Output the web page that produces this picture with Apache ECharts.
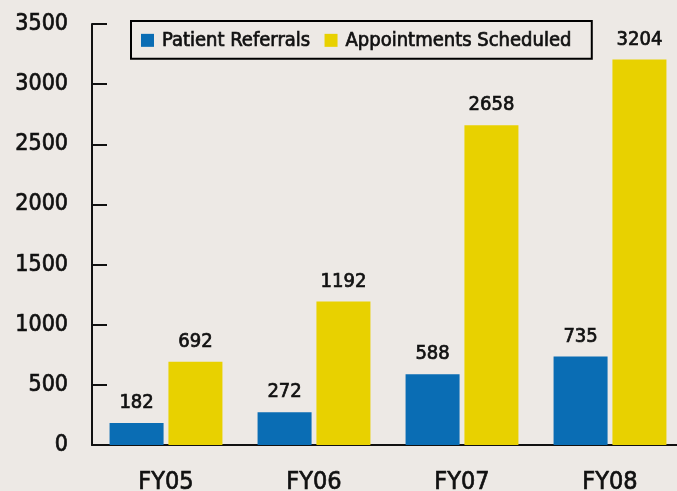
<!DOCTYPE html>
<html><head><meta charset="utf-8">
<script src="https://cdn.jsdelivr.net/npm/echarts@6/dist/echarts.min.js"></script>
<style>html,body{margin:0;padding:0;background:#ede9e5}#c{width:677px;height:491px}</style>
</head><body><div id="c"></div>
<script>
var categories = ['FY05', 'FY06', 'FY07', 'FY08'];
var referrals = [182, 272, 588, 735];
var appointments = [692, 1192, 2658, 3204];
var seriesNames = ['Patient Referrals', 'Appointments Scheduled'];
var yTicks = [0, 500, 1000, 1500, 2000, 2500, 3000, 3500];

var FONT = '"DejaVu Sans Condensed", "Liberation Sans Narrow", "Liberation Sans", sans-serif';
var INK = '#111';
var thick = { textBorderColor: INK, textBorderWidth: 0.7 };
var chart = echarts.init(document.getElementById('c'));
chart.setOption({
  backgroundColor: '#ede9e5',
  animation: false,
  textStyle: { fontFamily: FONT },
  legend: {
    left: 131, top: 21,
    data: seriesNames,
    itemWidth: 13, itemHeight: 13, itemGap: 14,
    backgroundColor: '#ede9e5',
    borderColor: '#000', borderWidth: 2, borderRadius: 0,
    padding: [9, 20, 8, 10],
    icon: 'rect',
    textStyle: Object.assign({ fontFamily: FONT, fontSize: 20, color: INK, padding: [0, 0, 0, 3] }, thick)
  },
  grid: { left: 92, right: -7, top: 24, bottom: 46, containLabel: false, outerBoundsMode: 'none' },
  xAxis: {
    type: 'category', data: categories,
    axisLine: { lineStyle: { color: INK, width: 2 } },
    axisTick: { inside: true, length: 10, lineStyle: { color: INK, width: 2 } },
    axisLabel: Object.assign({ fontFamily: FONT, fontSize: 25, color: INK, margin: 25 }, thick)
  },
  yAxis: {
    type: 'value', min: 0, max: 3500, interval: 500,
    axisLine: { show: true, lineStyle: { color: INK, width: 2 } },
    axisTick: { show: true, inside: true, length: 15, lineStyle: { color: INK, width: 2 } },
    splitLine: { show: false },
    axisLabel: Object.assign({ fontFamily: FONT, fontSize: 23, color: INK, margin: 24,
      formatter: function (v) { return yTicks.indexOf(v) >= 0 ? String(v) : ''; } }, thick)
  },
  series: [
    { name: seriesNames[0], type: 'bar', data: referrals, barWidth: 54, barGap: '9%',
      itemStyle: { color: '#0a6db4' },
      label: Object.assign({ show: true, position: 'top', distance: 10, fontFamily: FONT, fontSize: 20, color: INK }, thick) },
    { name: seriesNames[1], type: 'bar', data: appointments, barWidth: 54,
      itemStyle: { color: '#e8d100' },
      label: Object.assign({ show: true, position: 'top', distance: 10, fontFamily: FONT, fontSize: 20, color: INK }, thick) }
  ]
});
</script></body></html>
